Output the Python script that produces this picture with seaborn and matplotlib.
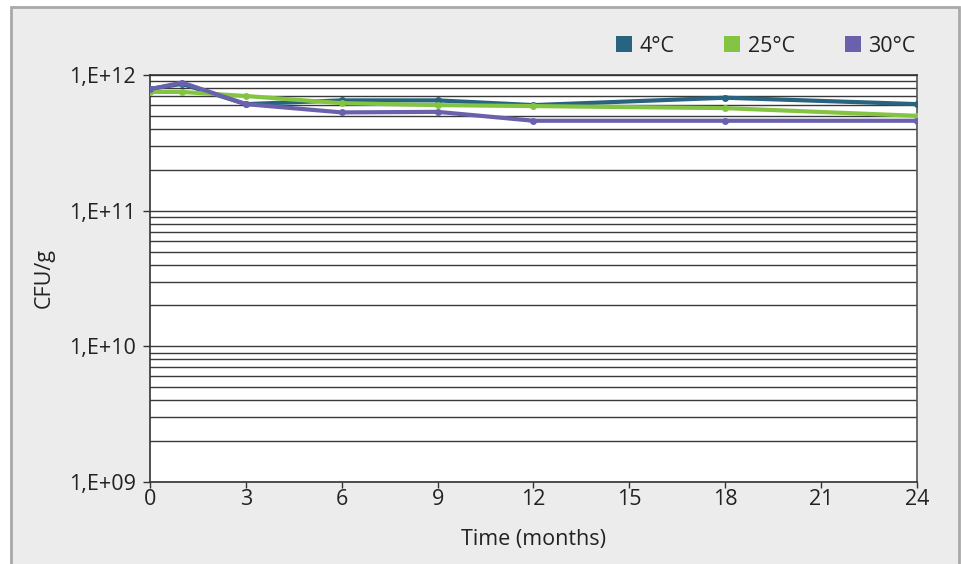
import matplotlib
matplotlib.use("Agg")
import matplotlib.pyplot as plt
import matplotlib.ticker as mticker
from matplotlib.patches import Rectangle, Patch
import seaborn as sns
import pandas as pd

months = [0, 1, 3, 6, 9, 12, 18, 24]
cfu_4c = [7.9e11, 8.6e11, 6.1e11, 6.5e11, 6.5e11, 6.0e11, 6.8e11, 6.1e11]
cfu_25c = [7.5e11, 7.5e11, 7.0e11, 6.2e11, 6.0e11, 5.9e11, 5.7e11, 5.0e11]
cfu_30c = [7.85e11, 8.8e11, 6.1e11, 5.3e11, 5.35e11, 4.6e11, 4.6e11, 4.6e11]
series_names = ["4°C", "25°C", "30°C"]
x_ticks = [0, 3, 6, 9, 12, 15, 18, 21, 24]
y_ticks = [1e9, 1e10, 1e11, 1e12]
y_tick_labels = ["1,E+09", "1,E+10", "1,E+11", "1,E+12"]

colors = {"4°C": "#28637f", "25°C": "#84c443", "30°C": "#6a61ad"}

rows = []
for name, vals in zip(series_names, [cfu_4c, cfu_25c, cfu_30c]):
    for m, v in zip(months, vals):
        rows.append({"month": m, "cfu": v, "temp": name})
df = pd.DataFrame(rows)

sns.set_theme(style="white")
plt.rcParams["font.family"] = ["Open Sans", "DejaVu Sans"]
FS = 15.5

fig = plt.figure(figsize=(9.62, 5.64), dpi=100, facecolor="white")
bg = Rectangle((11 / 962, -0.05), (959 - 11) / 962, (564 - 7) / 564 + 0.05,
               transform=fig.transFigure, facecolor="#ebeceb",
               edgecolor="#a9a9a9", linewidth=2, zorder=-10)
fig.patches.append(bg)

ax = fig.add_axes([150 / 962, (564 - 482) / 564, (917 - 150) / 962, (482 - 75) / 564])
ax.set_facecolor("white")

sns.lineplot(data=df, x="month", y="cfu", hue="temp", hue_order=series_names,
             palette=colors, marker="o", markersize=5, markeredgewidth=0,
             linewidth=3, ax=ax, legend=False, zorder=3)

ax.set_yscale("log")
ax.set_ylim(1e9, 1e12)
ax.set_xlim(0, 24)
ax.yaxis.set_major_locator(mticker.FixedLocator(y_ticks))
ax.yaxis.set_major_formatter(mticker.FixedFormatter(y_tick_labels))
ax.yaxis.set_minor_locator(mticker.LogLocator(base=10, subs=range(2, 10)))
ax.yaxis.set_minor_formatter(mticker.NullFormatter())
ax.set_xticks(x_ticks)
ax.set_xticklabels([str(t) for t in x_ticks])

ax.grid(True, which="both", axis="y", color="#3a3a3a", linewidth=1)
ax.grid(False, axis="x")
ax.set_axisbelow(True)

for s in ["left", "bottom", "right", "top"]:
    ax.spines[s].set_color("#333333")
    ax.spines[s].set_linewidth(1.2)
ax.spines["right"].set_color("#555555")

ax.tick_params(axis="y", which="major", direction="out", length=5, width=1,
               color="#333333", labelsize=FS, labelcolor="#222222", pad=5,
               left=True)
ax.tick_params(axis="x", which="major", direction="out", length=4, width=1,
               color="#333333", labelsize=FS, labelcolor="#222222", pad=1,
               bottom=True)
ax.tick_params(axis="y", which="minor", length=0)

ax.set_xlabel("Time (months)", fontsize=FS, color="#222222", labelpad=14)
ax.set_ylabel("CFU/g", fontsize=FS, color="#222222", labelpad=10)

handles = [Patch(facecolor=colors[n], edgecolor="none", label=n) for n in series_names]
fig.legend(handles=handles, loc="center right", bbox_to_anchor=(0.972, 0.918),
           ncol=3, frameon=False, fontsize=FS, handlelength=0.75, handleheight=0.75,
           columnspacing=2.3, handletextpad=0.35, labelcolor="#222222")

fig.savefig("out.png", dpi=100, facecolor="white")
